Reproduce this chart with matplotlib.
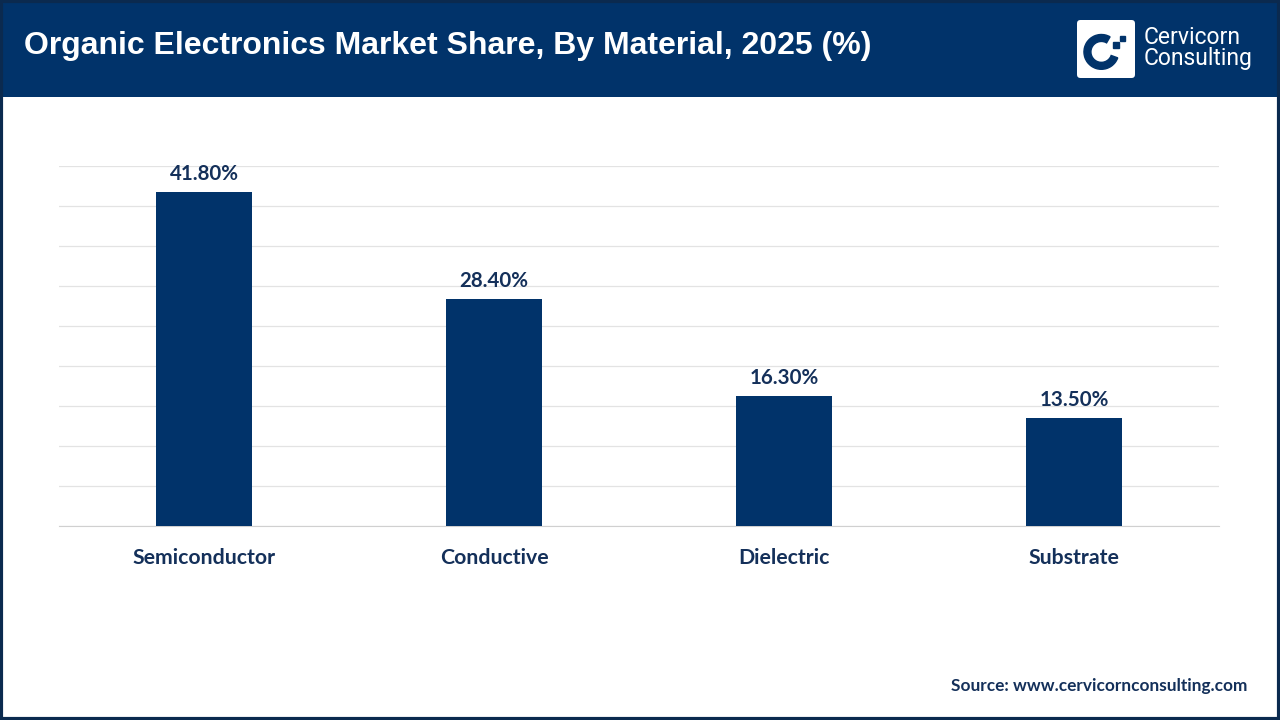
import matplotlib.pyplot as plt
from matplotlib.patches import Rectangle, FancyBboxPatch, Wedge

categories = ["Semiconductor", "Conductive", "Dielectric", "Substrate"]
shares = [41.8, 28.4, 16.3, 13.5]

navy = "#01336a"
text_navy = "#14305a"

fig = plt.figure(figsize=(12.8, 7.2), dpi=100)
fig.patch.set_facecolor("white")

# header band
fig.patches.append(Rectangle((0, 1 - 97 / 720), 1, 97 / 720, transform=fig.transFigure,
                             facecolor=navy, edgecolor="none", zorder=0))
# outer border
fig.patches.append(Rectangle((0.001, 0.002), 0.998, 0.996, transform=fig.transFigure,
                             facecolor="none", edgecolor="#0b2a4f", linewidth=3, zorder=5))

fig.text(24 / 1280, 1 - 46 / 720, "Organic Electronics Market Share, By Material, 2025 (%)",
         color="white", fontsize=23, fontweight="bold", family="Liberation Sans",
         va="center", ha="left")

# logo
lx, ly, ls = 1077, 20, 58
logo_ax = fig.add_axes([lx / 1280, 1 - (ly + ls) / 720, ls / 1280, ls / 720], zorder=10)
logo_ax.set_xlim(0, 1)
logo_ax.set_ylim(0, 1)
logo_ax.axis("off")
logo_ax.add_patch(FancyBboxPatch((0, 0), 1, 1, boxstyle="round,pad=0,rounding_size=0.06",
                                 facecolor="white", edgecolor="none"))
logo_ax.add_patch(Wedge((0.42, 0.45), 0.3, 60, 340, width=0.12, color=navy))
logo_ax.add_patch(Rectangle((0.62, 0.52), 0.1, 0.1, color=navy))
logo_ax.add_patch(Rectangle((0.74, 0.64), 0.08, 0.08, color=navy))
fig.text(1144 / 1280, 1 - 37 / 720, "Cervicorn", color="white", fontsize=16.5,
         family="Roboto", va="center", ha="left")
fig.text(1144 / 1280, 1 - 59 / 720, "Consulting", color="white", fontsize=16.5,
         family="Roboto", va="center", ha="left")

ax = fig.add_axes([59 / 1280, 1 - 526 / 720, 1160 / 1280, 360 / 720])
x = range(len(categories))
bars = ax.bar(x, shares, width=0.334, color=navy, zorder=3)
ax.set_xlim(-0.5, len(categories) - 0.5)
ax.set_ylim(0, 45)
ax.set_yticks(range(0, 46, 5))
ax.yaxis.grid(True, color="#e3e3e3", linewidth=0.9, zorder=0)
ax.tick_params(axis="y", left=False, labelleft=False)
ax.tick_params(axis="x", bottom=False, pad=12.5)
ax.set_xticks(list(x))
ax.set_xticklabels(categories, fontsize=15.3, fontweight="bold", family="Lato", color=text_navy)
for s in ["top", "right", "left"]:
    ax.spines[s].set_visible(False)
ax.spines["bottom"].set_color("#d0d0d0")

for b, v in zip(bars, shares):
    ax.annotate(f"{v:.2f}%", (b.get_x() + b.get_width() / 2, v), xytext=(0, 5.5),
                textcoords="offset points", ha="center", va="bottom",
                fontsize=14.8, fontweight="bold", family="Lato", color=text_navy)

fig.text(1247 / 1280, 1 - 686 / 720, "Source: www.cervicornconsulting.com", color=text_navy,
         fontsize=12.4, fontweight="bold", family="Lato", ha="right", va="center")

fig.savefig("out.png", dpi=100)
